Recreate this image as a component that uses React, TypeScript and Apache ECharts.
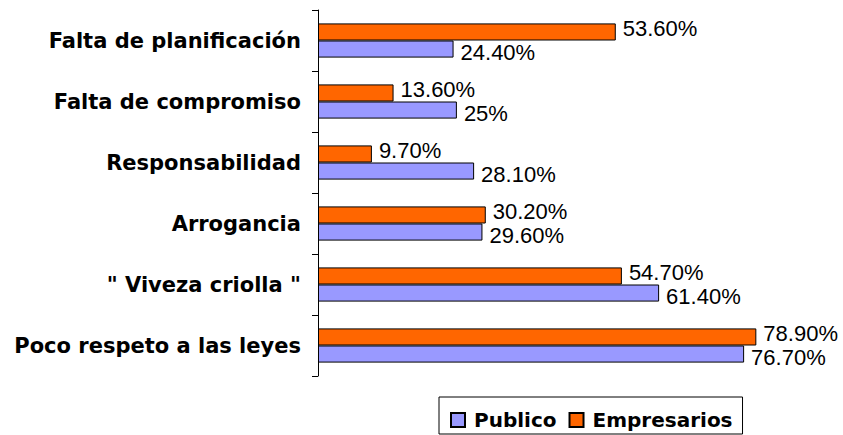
import React, { useEffect, useRef } from "react";
import * as echarts from "echarts";

const categories = [
  "Falta de planificación",
  "Falta de compromiso",
  "Responsabilidad",
  "Arrogancia",
  "\" Viveza criolla \"",
  "Poco respeto a las leyes",
];
const publico = [24.4, 25, 28.1, 29.6, 61.4, 76.7];
const empresarios = [53.6, 13.6, 9.7, 30.2, 54.7, 78.9];
const publicoLabels = ["24.40%", "25%", "28.10%", "29.60%", "61.40%", "76.70%"];
const empresariosLabels = ["53.60%", "13.60%", "9.70%", "30.20%", "54.70%", "78.90%"];

export default function App() {
  const ref = useRef<HTMLDivElement>(null);
  useEffect(() => {
    document.body.style.margin = "0";
    if (!ref.current) return;
    const chart = echarts.init(ref.current, null, { renderer: "svg" });
    const valueLabel = (labels: string[], dy: number) => ({
      show: true,
      position: "right",
      distance: 7,
      offset: [0, dy],
      fontFamily: "Liberation Sans",
      fontSize: 22,
      lineHeight: 20,
      color: "#000",
      formatter: (p: any) => labels[p.dataIndex],
    });
    chart.setOption({
      animation: false,
      backgroundColor: "#fff",
      grid: { left: 318, right: 25, top: 10, bottom: 59, containLabel: false },
      xAxis: {
        type: "value",
        min: 0,
        max: 90,
        show: false,
        splitLine: { show: false },
      },
      yAxis: {
        type: "category",
        data: categories,
        inverse: true,
        axisLine: { show: true, lineStyle: { color: "#000", width: 1 } },
        axisTick: { show: true, length: 6, lineStyle: { color: "#000" } },
        axisLabel: {
          margin: 17,
          fontFamily: "DejaVu Sans",
          fontWeight: "bold",
          fontSize: 21,
          color: "#000",
          padding: [0, 0, 6, 0],
        },
      },
      legend: {
        data: ["Publico", "Empresarios"],
        left: 439,
        top: 397,
        orient: "horizontal",
        icon: "rect",
        itemWidth: 14,
        itemHeight: 14,
        itemGap: 12,
        padding: [13, 10, 4, 11],
        borderColor: "#000",
        borderWidth: 1,
        textStyle: {
          fontFamily: "DejaVu Sans",
          fontWeight: "bold",
          fontSize: 20,
          lineHeight: 20,
          color: "#000",
          padding: [0, 0, 0, 4],
        },
      },
      series: [
        {
          name: "Empresarios",
          type: "bar",
          data: empresarios,
          barGap: "0%",
          barCategoryGap: "44%",
          itemStyle: { color: "#FF6600", borderColor: "#000", borderWidth: 1 },
          label: valueLabel(empresariosLabels, -3),
        },
        {
          name: "Publico",
          type: "bar",
          data: publico,
          barGap: "0%",
          barCategoryGap: "44%",
          itemStyle: { color: "#9999FF", borderColor: "#000", borderWidth: 1 },
          label: valueLabel(publicoLabels, 3),
        },
      ],
    });
    return () => chart.dispose();
  }, []);
  return <div ref={ref} style={{ width: 843, height: 435 }} />;
}
